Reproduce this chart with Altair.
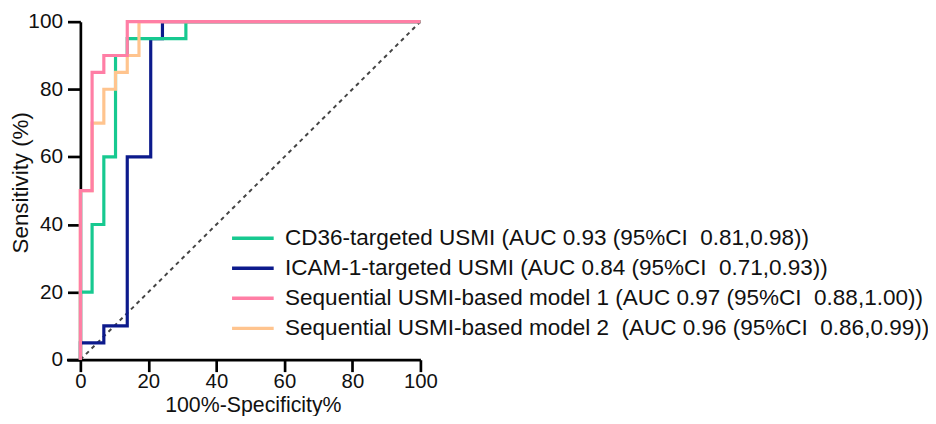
import altair as alt
import pandas as pd

# ROC vertices (100%-Specificity %, Sensitivity %)
labels = [
    "CD36-targeted USMI (AUC 0.93 (95%CI\u00a0 0.81,0.98))",
    "ICAM-1-targeted USMI (AUC 0.84 (95%CI\u00a0 0.71,0.93))",
    "\u00a0Sequential USMI-based model 1 (AUC 0.97 (95%CI\u00a0 0.88,1.00))",
    "Sequential USMI-based model 2\u00a0 (AUC 0.96 (95%CI\u00a0 0.86,0.99))",
]
colors = ["#17c990", "#0c1a8c", "#ff7ea5", "#ffc48e"]

fpr_cd36 = [0, 0, 3.45, 6.9, 10.34, 13.79, 31.03, 100]
tpr_cd36 = [0, 20, 40, 60, 90, 95, 100, 100]

fpr_icam = [0, 0, 6.9, 13.79, 20.69, 24.14, 100]
tpr_icam = [0, 5, 10, 60, 95, 100, 100]

fpr_m1 = [0, 0, 3.45, 6.9, 13.79, 100]
tpr_m1 = [0, 50, 85, 90, 100, 100]

fpr_m2 = [0, 0, 3.45, 6.9, 10.34, 13.79, 17.24, 100]
tpr_m2 = [0, 50, 70, 80, 85, 90, 100, 100]

diag_x = [0, 100]
diag_y = [0, 100]

x_ticks = [0, 20, 40, 60, 80, 100]
y_ticks = [0, 20, 40, 60, 80, 100]

series = [(fpr_cd36, tpr_cd36), (fpr_icam, tpr_icam), (fpr_m1, tpr_m1), (fpr_m2, tpr_m2)]
rows = []
for lab, (xs, ys) in zip(labels, series):
    for i, (xv, yv) in enumerate(zip(xs, ys)):
        rows.append({"model": lab, "x": xv, "y": yv, "i": i})
df = pd.DataFrame(rows)
diag = pd.DataFrame({"x": diag_x, "y": diag_y})

FONT = "Liberation Sans"

xscale = alt.Scale(domain=[-4.08, 100], nice=False, zero=False)
yscale = alt.Scale(domain=[0, 100], nice=False)

xaxis = alt.Axis(values=x_ticks, title="100%-Specificity%", grid=False,
                 domainColor="black", domainWidth=2.7, tickColor="black", tickWidth=2.7,
                 tickSize=12, labelFontSize=20.5, labelColor="#111", labelPadding=0,
                 labelFont=FONT, titleFont=FONT, titleFontSize=21.5, titleFontWeight="normal",
                 titleColor="#111", titleX=188, titleY=52, titleBaseline="alphabetic",
                 titleAlign="center", labelFlush=False)
yaxis = alt.Axis(values=y_ticks, title="Sensitivity (%)", grid=False, offset=-14,
                 domainColor="black", domainWidth=2.7, tickColor="black", tickWidth=2.7,
                 tickSize=13, labelFontSize=21, labelColor="#111", labelPadding=5,
                 labelFont=FONT, titleFont=FONT, titleFontSize=22.5, titleFontWeight="normal",
                 titleColor="#111", titleX=-53, titleY=162, titleAngle=-90,
                 titleBaseline="alphabetic", titleAlign="center", labelFlush=False)

color = alt.Color("model:N",
                  scale=alt.Scale(domain=labels, range=colors),
                  legend=alt.Legend(title=None, orient="none", legendX=175.5, legendY=206,
                                    symbolType="M-2,0H2", symbolSize=441, symbolStrokeWidth=3.5,
                                    labelFontSize=22.7, labelFont=FONT, labelColor="#111",
                                    labelLimit=0, labelOffset=20, rowPadding=5.3, padding=0))

diag_layer = alt.Chart(diag).mark_line(color="#444", strokeWidth=2, strokeDash=[4, 4]).encode(
    x=alt.X("x:Q", scale=xscale, axis=xaxis),
    y=alt.Y("y:Q", scale=yscale, axis=yaxis),
)

layers = [diag_layer]
for idx in [1, 0, 3, 2]:
    layers.append(
        alt.Chart(df).transform_filter(alt.datum.model == labels[idx])
        .mark_line(interpolate="step-after", strokeWidth=3.2)
        .encode(x=alt.X("x:Q", scale=xscale, axis=xaxis),
                y=alt.Y("y:Q", scale=yscale, axis=yaxis),
                color=color,
                order=alt.Order("i:Q"))
    )

chart = alt.layer(*layers).properties(
    width=357, height=341,
    autosize=alt.AutoSizeParams(type="none"),
    padding={"left": 59, "top": 12, "right": 512, "bottom": 55},
    background="white",
).configure_view(stroke=None)

chart.save("out.html", embed_options={"renderer": "svg", "actions": False})
